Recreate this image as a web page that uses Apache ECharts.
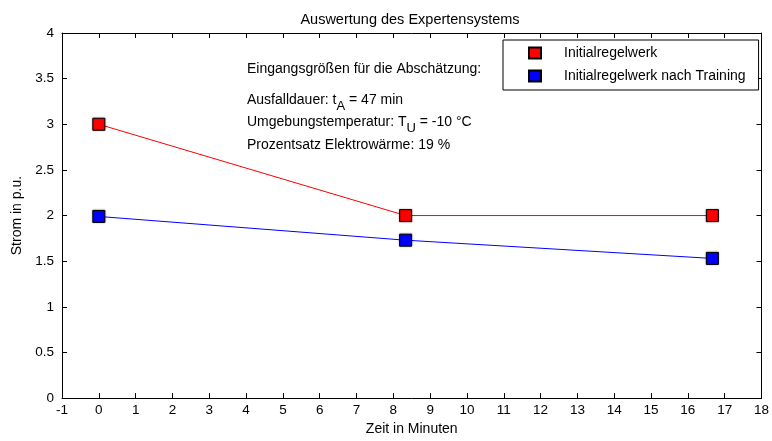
<!DOCTYPE html>
<html><head><meta charset="utf-8">
<script src="https://cdn.jsdelivr.net/npm/echarts@6/dist/echarts.min.js"></script>
<style>html,body{margin:0;padding:0;background:#fff}#c{width:772px;height:441px}</style>
</head><body><div id="c"></div>
<script>
var timeMin = [0, 8.333, 16.667];
var initial = [3.0, 2.0, 2.0];
var trained = [1.99, 1.73, 1.53];
var seriesNames = ['Initialregelwerk', 'Initialregelwerk nach Training'];
var titleText = 'Auswertung des Expertensystems';
var xName = 'Zeit in Minuten';
var yName = 'Strom in p.u.';

var font = 'Liberation Sans, Arial, sans-serif';
function pairs(xs, ys){ return xs.map(function(x,i){return [x, ys[i]];}); }
var chart = echarts.init(document.getElementById('c'));
var axisBase = {
  axisLine:{show:true, onZero:false, lineStyle:{color:'#000', width:1}},
  axisTick:{show:true, inside:true, length:5, lineStyle:{color:'#000'}},
  splitLine:{show:false},
  axisLabel:{color:'#000', fontFamily:font, fontSize:13.5}
};
function ax(o){ var b = JSON.parse(JSON.stringify(axisBase)); for (var k in o){ if (b[k] && typeof o[k]==='object') Object.assign(b[k], o[k]); else b[k]=o[k]; } return b; }
var sym = {borderColor:'#000', borderWidth:1, shadowColor:'rgba(0,0,0,0.35)', shadowBlur:2};
var rich = {a:{fontFamily:font, fontSize:14, fill:'#000', lineHeight:16, verticalAlign:'top'},
            s:{fontFamily:font, fontSize:13, fill:'#000', lineHeight:16, padding:[7,0,0,0], verticalAlign:'top'}};
chart.setOption({
  animation:false,
  backgroundColor:'#fff',
  title:{text:titleText, left:405, textAlign:'center', top:7,
    textStyle:{fontFamily:font, fontSize:14.5, fontWeight:'normal', color:'#000'}},
  grid:{left:62, right:7, top:33, bottom:38},
  legend:{
    orient:'vertical', left:503, top:40,
    padding:[6,13,7,25], itemGap:9, itemWidth:12, itemHeight:11,
    borderColor:'#000', borderWidth:1, backgroundColor:'#fff', borderRadius:0,
    textStyle:{fontFamily:font, fontSize:14, color:'#000', lineHeight:11, padding:[0,0,0,18]},
    data:[{name:seriesNames[0], icon:'rect'},{name:seriesNames[1], icon:'rect'}]
  },
  xAxis:[
    ax({type:'value', min:-1, max:18, interval:1, position:'bottom',
      name:xName, nameLocation:'middle', nameGap:23, axisLabel:{margin:5},
      nameTextStyle:{fontFamily:font, fontSize:14, color:'#000'}}),
    ax({type:'value', min:-1, max:18, interval:1, position:'top', axisLabel:{show:false}})
  ],
  yAxis:[
    ax({type:'value', min:0, max:4, interval:0.5, position:'left',
      name:yName, nameLocation:'middle', nameGap:37,
      nameTextStyle:{fontFamily:font, fontSize:14, color:'#000'}}),
    ax({type:'value', min:0, max:4, interval:0.5, position:'right', axisLabel:{show:false}})
  ],
  graphic:[
    {type:'text', left:247, top:62, style:{text:'Eingangsgrößen für die Abschätzung:', font:'14px '+font, fill:'#000'}},
    {type:'text', left:247, top:93, style:{text:'{a|Ausfalldauer: t}{s|A}{a| = 47 min}', rich:rich}},
    {type:'text', left:247, top:115, style:{text:'{a|Umgebungstemperatur: T}{s|U}{a| = -10 °C}', rich:rich}},
    {type:'text', left:247, top:138, style:{text:'Prozentsatz Elektrowärme: 19 %', font:'14px '+font, fill:'#000'}}
  ],
  series:[
    {name:seriesNames[0], type:'line', data:pairs(timeMin, initial), symbol:'rect', symbolSize:12,
     lineStyle:{color:'#ff0000', width:1}, itemStyle:Object.assign({color:'#ff0000'}, sym)},
    {name:seriesNames[1], type:'line', data:pairs(timeMin, trained), symbol:'rect', symbolSize:12,
     lineStyle:{color:'#0000ff', width:1}, itemStyle:Object.assign({color:'#0000ff'}, sym)}
  ]
});
</script></body></html>
